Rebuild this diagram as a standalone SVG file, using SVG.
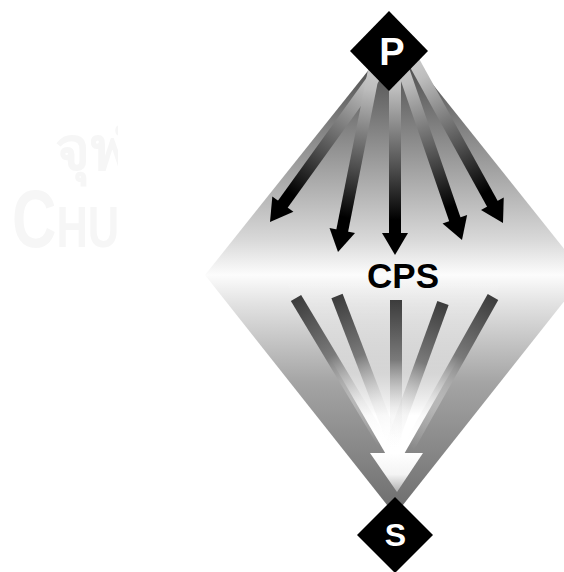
<svg xmlns="http://www.w3.org/2000/svg" width="564" height="572" viewBox="0 0 564 572">
  <defs>
    <linearGradient id="gUpper" x1="0" y1="37" x2="0" y2="275" gradientUnits="userSpaceOnUse">
      <stop offset="0" stop-color="#3a3a3a"/>
      <stop offset="0.45" stop-color="#8e8e8e"/>
      <stop offset="0.85" stop-color="#d8d8d8"/>
      <stop offset="1" stop-color="#fcfcfc"/>
    </linearGradient>
    <linearGradient id="gLower" x1="0" y1="275" x2="0" y2="515" gradientUnits="userSpaceOnUse">
      <stop offset="0" stop-color="#fcfcfc"/>
      <stop offset="0.12" stop-color="#e2e2e2"/>
      <stop offset="0.45" stop-color="#a4a4a4"/>
      <stop offset="1" stop-color="#6c6c6c"/>
    </linearGradient>
    <linearGradient id="gInner" x1="0" y1="275" x2="0" y2="470" gradientUnits="userSpaceOnUse">
      <stop offset="0" stop-color="#ffffff" stop-opacity="0"/>
      <stop offset="0.5" stop-color="#ffffff" stop-opacity="0.5"/>
      <stop offset="0.72" stop-color="#ffffff" stop-opacity="1"/>
      <stop offset="1" stop-color="#ffffff" stop-opacity="1"/>
    </linearGradient>
    <linearGradient id="gRay" x1="0" y1="0" x2="0" y2="1">
      <stop offset="0" stop-color="#3c3c3c"/>
      <stop offset="0.4" stop-color="#7a7a7a"/>
      <stop offset="0.72" stop-color="#e0e0e0" stop-opacity="0.4"/>
      <stop offset="1" stop-color="#ffffff" stop-opacity="0"/>
    </linearGradient>
    <linearGradient id="gArrow" x1="0" y1="-195" x2="0" y2="0" gradientUnits="userSpaceOnUse">
      <stop offset="0" stop-color="#d0d0d0"/>
      <stop offset="0.15" stop-color="#bdbdbd"/>
      <stop offset="0.55" stop-color="#505050"/>
      <stop offset="0.82" stop-color="#000000"/>
      <stop offset="1" stop-color="#000000"/>
    </linearGradient>
    <linearGradient id="gHead" x1="0" y1="453" x2="0" y2="492" gradientUnits="userSpaceOnUse">
      <stop offset="0" stop-color="#ffffff"/>
      <stop offset="0.55" stop-color="#f4f4f4"/>
      <stop offset="1" stop-color="#b0b0b0"/>
    </linearGradient>
    <clipPath id="wmClip">
      <rect x="0" y="0" width="118" height="572"/>
    </clipPath>
    <g id="arrowShape">
      <rect x="-6" y="-195" width="12" height="175" fill="url(#gArrow)"/>
      <polygon points="-13,-22 13,-22 0,0" fill="#000"/>
    </g>
  </defs>
  <style>
    .lbl { font-family: "Liberation Sans", Arial, sans-serif; font-weight: bold; text-anchor: middle; }
    .wm { font-family: "Liberation Sans", Arial, sans-serif; font-weight: bold; fill: #f6f6f6; }
  </style>

  <rect x="0" y="0" width="564" height="572" fill="#ffffff"/>

  <g id="watermark" clip-path="url(#wmClip)">
    <text class="wm" x="55" y="170" font-size="60">จุฬ</text>
    <text class="wm" x="12" y="247" font-size="82" transform="translate(12 0) scale(0.75 1) translate(-12 0)">C<tspan font-size="58">HU</tspan></text>
  </g>

  <g id="background">
    <polygon points="395,37 585,275 205,275" fill="url(#gUpper)"/>
    <polygon points="205,275 585,275 395,515" fill="url(#gLower)"/>
    <polygon points="282,275 506,275 395,470" fill="url(#gInner)"/>
  </g>

  <g id="connectors">
    <g id="rays">
      <rect x="-6" y="0" width="12" height="170" fill="url(#gRay)" transform="translate(296 298) rotate(-31)"/>
      <rect x="-6" y="0" width="12" height="160" fill="url(#gRay)" transform="translate(337 296) rotate(-21)"/>
      <rect x="-6" y="0" width="12" height="150" fill="url(#gRay)" transform="translate(396 300)"/>
      <rect x="-6" y="0" width="12" height="158" fill="url(#gRay)" transform="translate(443 303) rotate(20)"/>
      <rect x="-6" y="0" width="12" height="172" fill="url(#gRay)" transform="translate(493 297) rotate(29.3)"/>
    </g>
    <g id="downArrow">
      <polygon points="370,453 423,453 397,492" fill="url(#gHead)"/>
    </g>
    <g id="fanArrows">
      <use href="#arrowShape" transform="translate(270 222) rotate(35.8)"/>
      <use href="#arrowShape" transform="translate(338 252) rotate(11.2)"/>
      <use href="#arrowShape" transform="translate(395 255)"/>
      <use href="#arrowShape" transform="translate(462 240) rotate(-19)"/>
      <use href="#arrowShape" transform="translate(503 223) rotate(-28.9)"/>
    </g>
  </g>

  <g id="node-P">
    <polygon points="389,11 428,51 389,91 350,51" fill="#000"/>
    <text class="lbl" x="392" y="65" font-size="38" fill="#ffffff">P</text>
  </g>

  <g id="node-CPS">
    <text class="lbl" x="403" y="288" font-size="35" fill="#000">CPS</text>
  </g>

  <g id="node-S">
    <polygon points="395,497 433,535 395,573 357,535" fill="#000"/>
    <text class="lbl" x="395.5" y="546" font-size="32" fill="#ffffff">S</text>
  </g>
</svg>
